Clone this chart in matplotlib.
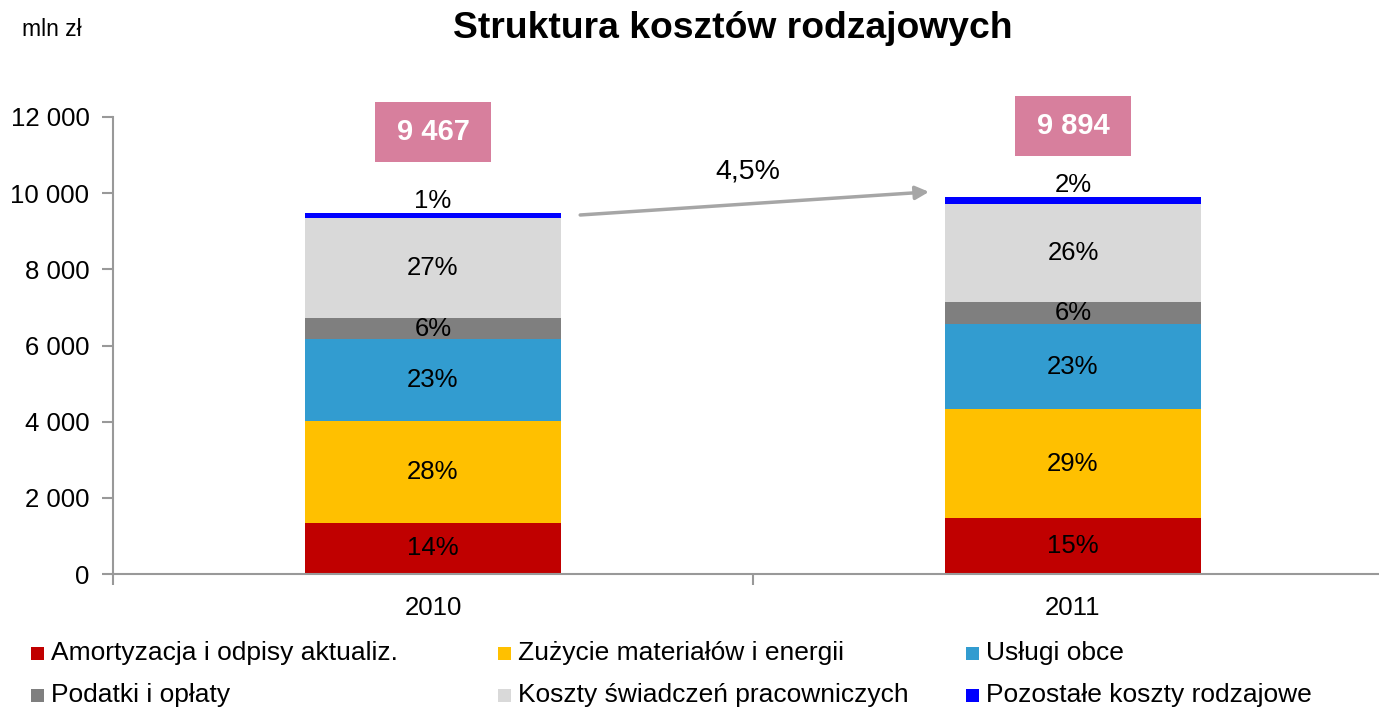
import numpy as np
import matplotlib
matplotlib.use("Agg")
import matplotlib.pyplot as plt
from matplotlib.patches import Rectangle

plt.rcParams['font.family'] = ['Liberation Sans', 'DejaVu Sans']

years = ['2010', '2011']
totals = ['9 467', '9 894']
growth = '4,5%'

series = ['Amortyzacja i odpisy aktualiz.', 'Zużycie materiałów i energii', 'Usługi obce',
          'Podatki i opłaty', 'Koszty świadczeń pracowniczych', 'Pozostałe koszty rodzajowe']
colors = ['#c00000', '#ffc000', '#329cd0', '#7f7f7f', '#d9d9d9', '#0000ff']

amortyzacja = [1347, 1458]
zuzycie = [2671, 2862]
uslugi = [2145, 2232]
podatki = [552, 586]
swiadczenia = [2634, 2578]
pozostale = [118, 178]
values = [amortyzacja, zuzycie, uslugi, podatki, swiadczenia, pozostale]

shares = [['14%', '15%'], ['28%', '29%'], ['23%', '23%'],
          ['6%', '6%'], ['27%', '26%'], ['1%', '2%']]

W, H = 1379, 710
fig = plt.figure(figsize=(W / 100, H / 100), dpi=100)
ax = fig.add_axes([113 / W, 136 / H, 1280 / W, 457 / H])

x = np.arange(len(years))
bottom = np.zeros(len(years))
for vals, col, lab in zip(values, colors, shares):
    bars = ax.bar(x, vals, 0.4, bottom=bottom, color=col, linewidth=0)
    if col == '#0000ff':
        for b, t in zip(bars, lab):
            ax.annotate(t, (b.get_x() + b.get_width() / 2, b.get_y() + b.get_height()),
                        xytext=(0, 9), textcoords='offset points', ha='center', va='center',
                        fontsize=18.5)
    else:
        ax.bar_label(bars, labels=lab, label_type='center', fontsize=18.5)
    bottom += np.array(vals)

# totals in pink boxes above the bars
box_w, box_h = 0.18, 1580
for xi, t, tot in zip(x, totals, bottom):
    yc = tot + 2000 + (150 if xi == 0 else -140)
    ax.add_patch(Rectangle((xi - box_w / 2, yc - box_h / 2), box_w, box_h,
                           fc='#d77f9d', ec='none', clip_on=False))
    ax.text(xi, yc, t, ha='center', va='center', fontsize=21, fontweight='bold',
            color='white', clip_on=False)

# growth arrow
ax.annotate('', xy=(0.775, bottom[1] + 140), xytext=(0.23, bottom[0] - 40),
            arrowprops=dict(arrowstyle='-|>,head_length=0.8,head_width=0.4',
                            color='#a6a6a6', lw=2.5, shrinkA=0, shrinkB=0))
ax.text(0.492, 10560, growth, ha='center', va='center', fontsize=20.5)

ax.set_xlim(-0.5, 1.5)
ax.set_ylim(0, 12000)
ax.set_yticks(np.arange(0, 12001, 2000))
ax.set_yticklabels([f'{v:,}'.replace(',', ' ') for v in range(0, 12001, 2000)])
ax.set_xticks(x)
ax.set_xticklabels(years)
ax.set_xticks([-0.5, 0.5, 1.5], minor=True)
ax.tick_params(axis='x', which='major', length=0, pad=16, labelsize=18.5)
ax.tick_params(axis='x', which='minor', length=8, width=1.5, color='#999999', direction='out')
ax.tick_params(axis='y', length=8, width=1.5, color='#999999', labelsize=18.5, pad=9)
for s in ['top', 'right']:
    ax.spines[s].set_visible(False)
for s in ['left', 'bottom']:
    ax.spines[s].set_color('#999999')
    ax.spines[s].set_linewidth(1.5)

fig.text(0.5315, 1 - 29 / H, 'Struktura kosztów rodzajowych', ha='center', va='center',
         fontsize=26.8, fontweight='bold')
fig.text(22 / W, 1 - 30 / H, 'mln zł', ha='left', va='center', fontsize=16.5)

# legend, three columns, two rows
col_x = [31, 498, 966]
row_y = [653, 695]
for i, (name, col) in enumerate(zip(series, colors)):
    cx = col_x[i % 3]
    cy = row_y[i // 3]
    fig.add_artist(Rectangle((cx / W, 1 - (cy + 6.5) / H), 13 / W, 13 / H,
                             transform=fig.transFigure, fc=col, ec='none'))
    fig.text((cx + 20) / W, 1 - cy / H, name, ha='left', va='center', fontsize=19)

fig.savefig('out.png', dpi=100)
